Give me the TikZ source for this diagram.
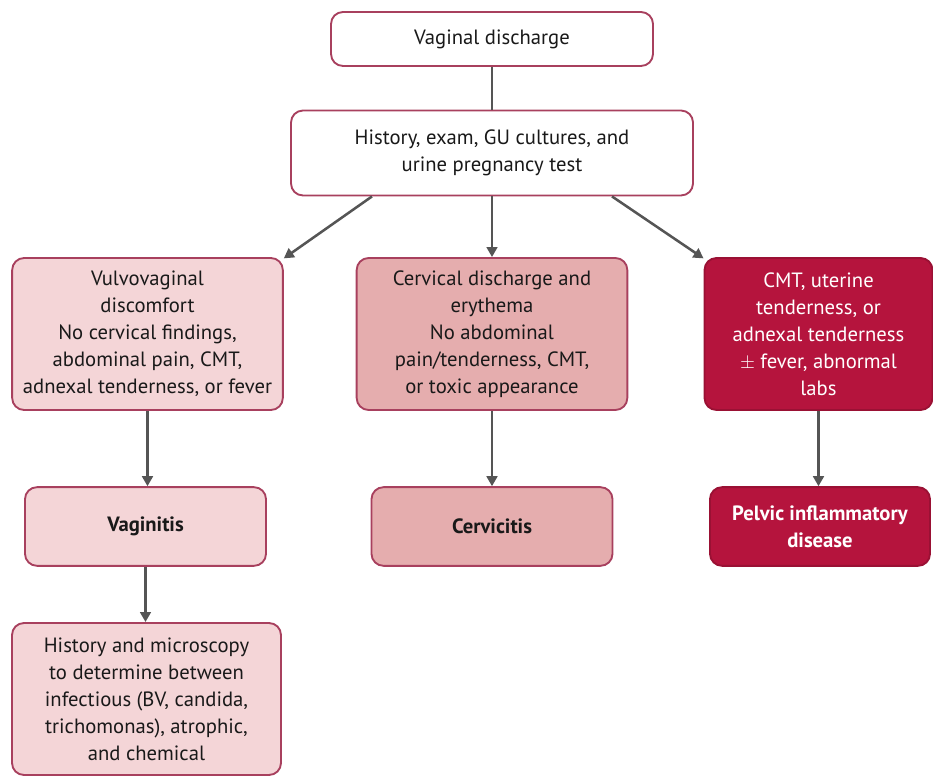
\documentclass[tikz,border=0pt]{standalone}
\usepackage{fontspec}
\setmainfont{PT Sans}
\usetikzlibrary{arrows.meta}
\definecolor{edgered}{HTML}{A8405E}
\definecolor{palepink}{HTML}{F4D5D7}
\definecolor{dustpink}{HTML}{E5ADAE}
\definecolor{deepred}{HTML}{B5143D}
\definecolor{arrowgray}{HTML}{555555}
\begin{document}
\begin{tikzpicture}[x=0.75pt,y=-0.75pt,font=\fontsize{15.5}{20.25}\selectfont,
    box/.style={draw=edgered,line width=1.4pt,rounded corners=9pt,align=center,
        inner sep=2pt,text=black!90},
    topbox/.style={box,fill=white},
    leftbox/.style={box,fill=palepink,minimum width=203pt},
    midbox/.style={box,fill=dustpink,minimum width=203pt},
    rightbox/.style={box,fill=deepred,draw=deepred!85!black,text=white},
    tall/.style={minimum height=114pt},
    short/.style={minimum height=59pt},
    link/.style={draw=arrowgray,line width=1.9pt},
    arr/.style={link,-{Triangle[length=7.5pt,width=8pt]}}]
    \useasboundingbox (0,0) rectangle (933,777);
    %% top of the chart
    \node[topbox,minimum width=241.5pt,minimum height=40.5pt] (start) at (492,39) {Vaginal discharge};
    \node[topbox,minimum width=301.5pt,minimum height=63.75pt] (workup) at (492,153)
        {History, exam, GU cultures, and\\urine pregnancy test};
    %% findings
    \node[leftbox,tall] (vulvo) at (147.5,334)
        {Vulvovaginal\\discomfort\\No cervical findings,\\abdominal pain, CMT,\\adnexal tenderness, or fever};
    \node[midbox,tall] (cervix) at (492,334)
        {Cervical discharge and\\erythema\\No abdominal\\pain/tenderness, CMT,\\or toxic appearance};
    \node[rightbox,tall,minimum width=171pt] (cmt) at (818.5,334)
        {CMT, uterine\\tenderness, or\\adnexal tenderness\\$\pm$ fever, abnormal\\labs};
    %% diagnoses
    \node[leftbox,short,minimum width=180.75pt] (vag) at (145.5,526.5) {\textbf{Vaginitis}};
    \node[midbox,short,minimum width=180.75pt] (cerv) at (492,526.5) {\textbf{Cervicitis}};
    \node[rightbox,short,minimum width=165pt] (pid) at (820,526.5)
        {\textbf{Pelvic inflammatory}\\\textbf{disease}};
    \node[leftbox,tall,minimum width=201.75pt] (micro) at (146.5,699)
        {History and microscopy\\to determine between\\infectious (BV, candida,\\trichomonas), atrophic,\\and chemical};
    %% connectors
    \draw[link] (start) -- (workup);
    \draw[arr] ([xshift=-90pt]workup.south) -- ([yshift=-1pt]vulvo.north east);
    \draw[arr] (workup) -- (cervix);
    \draw[arr] ([xshift=90pt]workup.south) -- ([yshift=-1pt]cmt.north west);
    \draw[arr] (vulvo) -- (vulvo |- vag.north);
    \draw[arr] (cervix) -- (cerv);
    \draw[arr] (cmt) -- (cmt |- pid.north);
    \draw[arr] (vag) -- (vag |- micro.north);
\end{tikzpicture}
\end{document}
